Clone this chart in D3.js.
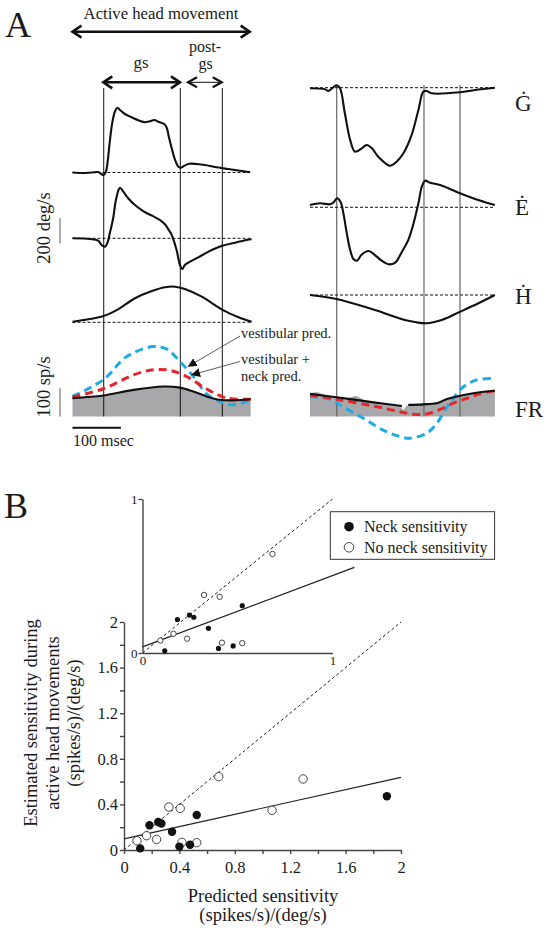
<!DOCTYPE html>
<html><head><meta charset="utf-8">
<script src="https://cdn.jsdelivr.net/npm/d3@7"></script>
<style>body{margin:0;background:#fff}svg{display:block}text{font-family:"Liberation Serif","Times New Roman",serif;fill:#1a1a1a}</style>
</head><body>
<script>
// ---------- Panel A data (time in ms, velocity in deg/s, firing rate in sp/s) ----------
const leftGdot = [[0,0],[26,-4],[46,2],[53,4],[59,-10],[64,-20],[69,6],[73,100],[77,246],[82,394],[88,492],[93,518],[98,500],[108,468],[122,442],[136,418],[150,402],[160,410],[169,420],[177,406],[190,386],[195,354],[199,286],[205,194],[212,100],[219,46],[224,38],[230,52],[241,70],[257,68],[274,60],[294,44],[322,28],[350,12],[367,2]];
const leftEdot = [[0,0],[36,-6],[53,-19],[60,-54],[67,-67],[73,-27],[77,40],[84,160],[89,293],[95,386],[98,405],[105,373],[115,320],[129,266],[146,218],[164,181],[181,146],[191,112],[199,66],[205,26],[215,-94],[222,-214],[227,-246],[232,-214],[243,-187],[260,-152],[281,-107],[308,-62],[336,-35],[360,-14],[370,-8]];
const leftHdot = [[0,4],[33,24],[64,50],[95,106],[129,192],[164,250],[191,280],[212,285],[232,266],[267,205],[308,104],[343,40],[370,5]];
const leftFR = [[0,65],[64,74],[126,94],[188,106],[222,102],[250,88],[277,71],[305,59],[332,57],[368,61]];
const leftVestPred = [[0,71],[64,130],[112,212],[167,247],[195,238],[222,194],[250,141],[277,80],[305,53],[332,41],[368,59]];
const leftVestNeckPred = [[0,69],[64,98],[126,147],[167,165],[201,163],[236,141],[277,97],[319,65],[368,61]];
const leftMarkers = [64.5, 222.7, 309.5];

const rightGdot = [[0,-5],[31,-13],[38,-26],[48,3],[55,19],[62,-5],[72,-205],[83,-418],[93,-512],[107,-485],[117,-458],[128,-485],[141,-552],[165,-624],[179,-592],[193,-525],[210,-378],[224,-178],[234,-32],[241,-26],[251,-45],[310,-37],[341,-18],[382,0]];
const rightEdot = [[0,18],[21,32],[41,24],[48,37],[56,72],[63,45],[69,-48],[76,-208],[83,-342],[90,-416],[97,-427],[107,-378],[121,-350],[134,-382],[148,-427],[162,-456],[176,-443],[190,-355],[203,-262],[213,-142],[224,32],[231,165],[238,213],[248,197],[269,178],[286,152],[310,112],[337,72],[365,37],[382,18]];
const rightHdot = [[0,0],[55,-32],[134,-120],[203,-206],[241,-226],[272,-200],[310,-134],[348,-66],[382,0]];
const rightFRfit = [[0,80],[55,68],[131,50],[190,37],[196,null],[203,41],[234,43],[262,47],[282,61],[310,73],[344,84],[382,91]];
const rightFRraw = [[0,82],[15,86],[35,74],[55,70],[80,66],[95,72],[110,60],[131,52],[160,44],[186,38],[193,24],[200,38],[230,46],[262,50],[282,63],[310,75],[344,86],[382,93]];
const rightVestPred = [[0,70],[41,61],[69,33],[110,-6],[151,-48],[186,-71],[207,-77],[241,-59],[262,-24],[279,23],[296,64],[317,105],[344,129],[382,135]];
const rightVestNeckPred = [[0,76],[55,61],[131,37],[186,17],[213,8],[241,9],[269,25],[296,47],[324,64],[351,80],[382,91]];
const rightMarkers = [55.2, 235.5, 309.9];

const traceLabels = ["\u0120", "\u0116", "\u1E22", "FR"];

// ---------- Panel B data ----------
const neckX = [0.117,0.184,0.247,0.27,0.347,0.525,0.40,0.477,1.898];
const neckY = [0.014,0.217,0.246,0.232,0.16,0.307,0.03,0.046,0.472];
const noNeckX = [0.094,0.163,0.235,0.324,0.406,0.418,0.525,0.684,1.069,1.293];
const noNeckY = [0.081,0.125,0.093,0.377,0.365,0.067,0.064,0.643,0.348,0.623];
const mainFit = [[0,0.098],[2,0.637]];
const mainUnity = [[0,0],[2,2]];
const insetFit = [[0,0.04],[1.115,0.556]];
const insetUnity = [[0,0],[1,1]];
const mainTicks = d3.range(11).map(i => i/5);
const legendLabels = ["Neck sensitivity", "No neck sensitivity"];

// ---------- drawing ----------
const FONT = '"Liberation Serif","Times New Roman",serif';
const svg = d3.select("body").append("svg").attr("width",549).attr("height",930);
const BLUE = "#1eabe3", RED = "#e3262b", GRAY = "#a8a8aa";

const xL = d3.scaleLinear().domain([0,370]).range([72.5,251.6]);
const xR = d3.scaleLinear().domain([0,382]).range([310,494.9]);
const vel = base => d3.scaleLinear().domain([0,200]).range([base, base-25]);
const yFR = d3.scaleLinear().domain([0,100]).range([416.5,388.2]);

const yLG = vel(172.5), yLE = vel(238.3), yLH = vel(322.3);
const yRG = vel(87.7), yRE = vel(207.3), yRH = vel(295);

function trace(data, xs, ys, opts={}) {
  const line = d3.line().defined(d => d[1] !== null).x(d => xs(d[0])).y(d => ys(d[1])).curve(d3.curveCatmullRom.alpha(0.5));
  return svg.append("path").datum(data).attr("d", line).attr("fill","none")
    .attr("stroke", opts.color || "#111").attr("stroke-width", opts.w || 2.1)
    .attr("stroke-dasharray", opts.dash || null).attr("stroke-linejoin","round");
}
function baseline(xs, ys, t0, t1) {
  svg.append("line").attr("x1", xs(t0)).attr("x2", xs(t1)).attr("y1", ys(0)).attr("y2", ys(0))
    .attr("stroke","#111").attr("stroke-width",1).attr("stroke-dasharray","3,2");
}
function grayArea(data, xs) {
  const area = d3.area().x(d => xs(d[0])).y0(yFR(0)).y1(d => yFR(d[1])).curve(d3.curveCatmullRom.alpha(0.5));
  svg.append("path").datum(data).attr("d", area).attr("fill", GRAY);
}

grayArea(leftFR, xL);
grayArea(rightFRraw, xR);

leftMarkers.forEach(t => svg.append("line").attr("x1",xL(t)).attr("x2",xL(t)).attr("y1",88).attr("y2",yFR(0)).attr("stroke","#111").attr("stroke-width",1));
rightMarkers.forEach(t => svg.append("line").attr("x1",xR(t)).attr("x2",xR(t)).attr("y1",85).attr("y2",yFR(0)).attr("stroke","#666").attr("stroke-width",1.2));

baseline(xL, yLG, 0, 367); baseline(xL, yLE, 0, 370); baseline(xL, yLH, 0, 370);
baseline(xR, yRG, 0, 382); baseline(xR, yRE, 0, 382); baseline(xR, yRH, 0, 382);

trace(leftGdot, xL, yLG); trace(leftEdot, xL, yLE); trace(leftHdot, xL, yLH);
trace(rightGdot, xR, yRG); trace(rightEdot, xR, yRE); trace(rightHdot, xR, yRH);

trace(leftVestPred, xL, yFR, {color:BLUE, w:3, dash:"8,5"});
trace(leftVestNeckPred, xL, yFR, {color:RED, w:3, dash:"8,5"});
trace(leftFR, xL, yFR, {w:2.1});
trace(rightVestPred, xR, yFR, {color:BLUE, w:3, dash:"8,5"});
trace(rightVestNeckPred, xR, yFR, {color:RED, w:3, dash:"8,5"});
trace(rightFRfit, xR, yFR, {w:2.1});

[[yRG,111],[yRE,214.5],[yRH,303.5],[yFR,416.5]].forEach((p,i) => {
  svg.append("text").attr("x",515).attr("y",p[1]).attr("font-size",23).text(traceLabels[i]);
});

function dblArrow(x1, x2, y, w, hw, headW) {
  svg.append("line").attr("x1",x1+1).attr("x2",x2-1).attr("y1",y).attr("y2",y).attr("stroke","#111").attr("stroke-width",w);
  svg.append("polyline").attr("points",`${x1+9},${y-hw} ${x1},${y} ${x1+9},${y+hw}`).attr("fill","none").attr("stroke","#111").attr("stroke-width",headW);
  svg.append("polyline").attr("points",`${x2-9},${y-hw} ${x2},${y} ${x2-9},${y+hw}`).attr("fill","none").attr("stroke","#111").attr("stroke-width",headW);
}
dblArrow(xL(0), xL(366), 31.7, 2.4, 6, 2.6);
dblArrow(xL(63.6), xL(222), 82.3, 2.4, 6, 2.6);
dblArrow(xL(238.6), xL(308.3), 82.3, 1, 5, 2.2);

svg.append("text").attr("x",5).attr("y",37).attr("font-size",36).text("A");
svg.append("text").attr("x",161).attr("y",18.5).attr("font-size",16.7).attr("text-anchor","middle").text("Active head movement");
svg.append("text").attr("x",141).attr("y",68.3).attr("font-size",16.7).attr("text-anchor","middle").text("gs");
svg.append("text").attr("x",205).attr("y",51.5).attr("font-size",16).attr("text-anchor","middle").text("post-");
svg.append("text").attr("x",205.7).attr("y",68.8).attr("font-size",16).attr("text-anchor","middle").text("gs");

const yBar = vel(243.3);
svg.append("line").attr("x1",60).attr("x2",60).attr("y1",yBar(0)).attr("y2",yBar(200)).attr("stroke","#888").attr("stroke-width",1.4);
svg.append("line").attr("x1",60).attr("x2",60).attr("y1",yFR(0)).attr("y2",yFR(100)).attr("stroke","#888").attr("stroke-width",1.4);
svg.append("line").attr("x1",xL(0)).attr("x2",xL(100)).attr("y1",427.7).attr("y2",427.7).attr("stroke","#111").attr("stroke-width",2);
svg.append("text").attr("transform","translate(50,228) rotate(-90)").attr("font-size",18.5).attr("text-anchor","middle").text("200 deg/s");
svg.append("text").attr("transform","translate(50,387) rotate(-90)").attr("font-size",18.5).attr("text-anchor","middle").text("100 sp/s");
svg.append("text").attr("x",73).attr("y",446).attr("font-size",16).text("100 msec");

const defs = svg.append("defs");
defs.append("marker").attr("id","ah").attr("viewBox","0 0 10 10").attr("refX",10).attr("refY",5)
  .attr("markerWidth",9).attr("markerHeight",9).attr("markerUnits","userSpaceOnUse").attr("orient","auto")
  .append("path").attr("d","M0,0L10,5L0,10z").attr("fill","#111");
svg.append("line").attr("x1",240).attr("y1",336).attr("x2",xL(238)).attr("y2",366.7).attr("stroke","#333").attr("stroke-width",0.8).attr("marker-end","url(#ah)");
svg.append("line").attr("x1",240).attr("y1",361.5).attr("x2",xL(245)).attr("y2",375).attr("stroke","#333").attr("stroke-width",0.8).attr("marker-end","url(#ah)");
svg.append("text").attr("x",241).attr("y",338).attr("font-size",14.5).attr("fill","#333").text("vestibular pred.");
svg.append("text").attr("x",241).attr("y",363.5).attr("font-size",14.5).attr("fill","#333").text("vestibular +");
svg.append("text").attr("x",241).attr("y",380.5).attr("font-size",14.5).attr("fill","#333").text("neck pred.");

// ---------- Panel B ----------
svg.append("text").attr("x",4).attr("y",518).attr("font-size",36).text("B");
const xM = d3.scaleLinear().domain([0,2]).range([124,401]);
const yM = d3.scaleLinear().domain([0,2]).range([850,622]);
const fmt = d3.format("~g");
const gx = svg.append("g").attr("transform","translate(0,850)")
  .call(d3.axisBottom(xM).tickValues(mainTicks).tickSize(4).tickPadding(7).tickSizeOuter(0).tickFormat((d,i) => i%2===0 ? fmt(d) : ""));
const gy = svg.append("g").attr("transform","translate(124,0)")
  .call(d3.axisLeft(yM).tickValues(mainTicks).tickSize(4).tickPadding(2).tickSizeOuter(0).tickFormat((d,i) => i%2===0 ? fmt(d) : ""));
[gx,gy].forEach(g => {
  g.attr("font-family", FONT);
  g.selectAll("path,line").attr("stroke","#444").attr("stroke-width",1.4);
  g.selectAll("text").style("font-family", FONT).style("font-size","16.5px").style("fill","#1a1a1a");
});

const lineM = d3.line().x(d => xM(d[0])).y(d => yM(d[1]));
svg.append("path").attr("d", lineM(mainUnity)).attr("stroke","#222").attr("stroke-width",1).attr("stroke-dasharray","3,2.5").attr("fill","none");
svg.append("path").attr("d", lineM(mainFit)).attr("stroke","#222").attr("stroke-width",1.2).attr("fill","none");

const xI = d3.scaleLinear().domain([0,1]).range([142.5,332.5]);
const yI = d3.scaleLinear().domain([0,1]).range([653,499]);
const gxi = svg.append("g").attr("transform","translate(0,653)")
  .call(d3.axisBottom(xI).tickValues([0,1]).tickSize(0).tickPadding(3).tickSizeOuter(0).tickFormat(fmt));
const gyi = svg.append("g").attr("transform","translate(142.5,0)")
  .call(d3.axisLeft(yI).tickValues([0,1]).tickSize(4).tickPadding(1).tickSizeOuter(0).tickFormat(fmt));
[gxi,gyi].forEach(g => {
  g.attr("font-family", FONT);
  g.selectAll("path,line").attr("stroke","#444").attr("stroke-width",1.4);
  g.selectAll("text").style("font-family", FONT).style("font-size","13px").style("fill","#1a1a1a");
});
const lineI = d3.line().x(d => xI(d[0])).y(d => yI(d[1]));
svg.append("path").attr("d", lineI(insetUnity)).attr("stroke","#222").attr("stroke-width",1).attr("stroke-dasharray","3,2.5").attr("fill","none");
svg.append("path").attr("d", lineI(insetFit)).attr("stroke","#222").attr("stroke-width",1.2).attr("fill","none");

function pts(xs, ys, X, Y, r, filled, filter) {
  X.forEach((x,i) => {
    if (filter && (x > 1 || Y[i] > 1)) return;
    svg.append("circle").attr("cx", xs(x)).attr("cy", ys(Y[i])).attr("r", r)
      .attr("fill", filled ? "#111" : "#fff").attr("stroke", filled ? "none" : "#333").attr("stroke-width", 0.9);
  });
}
pts(xM, yM, noNeckX, noNeckY, 4.2, false);
pts(xM, yM, neckX, neckY, 4.2, true);
pts(xI, yI, noNeckX, noNeckY, 2.7, false, true);
pts(xI, yI, neckX, neckY, 2.6, true, true);

svg.append("rect").attr("x",330.3).attr("y",511.7).attr("width",164.3).attr("height",47.6).attr("fill","#fff").attr("stroke","#333").attr("stroke-width",1);
svg.append("circle").attr("cx",349).attr("cy",526.7).attr("r",4.8).attr("fill","#111");
svg.append("circle").attr("cx",349).attr("cy",547.3).attr("r",4.8).attr("fill","#fff").attr("stroke","#333").attr("stroke-width",0.9);
svg.append("text").attr("x",364).attr("y",532).attr("font-size",16).text(legendLabels[0]);
svg.append("text").attr("x",364).attr("y",552.8).attr("font-size",16).text(legendLabels[1]);

svg.append("text").attr("transform","translate(37,723) rotate(-90)").attr("font-size",18.5).attr("text-anchor","middle").text("Estimated sensitivity during");
svg.append("text").attr("transform","translate(58.5,723) rotate(-90)").attr("font-size",18.5).attr("text-anchor","middle").text("active head movements");
svg.append("text").attr("transform","translate(80,723) rotate(-90)").attr("font-size",18.5).attr("text-anchor","middle").text("(spikes/s)/(deg/s)");
svg.append("text").attr("x",263).attr("y",901.5).attr("font-size",18.5).attr("text-anchor","middle").text("Predicted sensitivity");
svg.append("text").attr("x",263).attr("y",921).attr("font-size",18.5).attr("text-anchor","middle").text("(spikes/s)/(deg/s)");
</script>
</body></html>
